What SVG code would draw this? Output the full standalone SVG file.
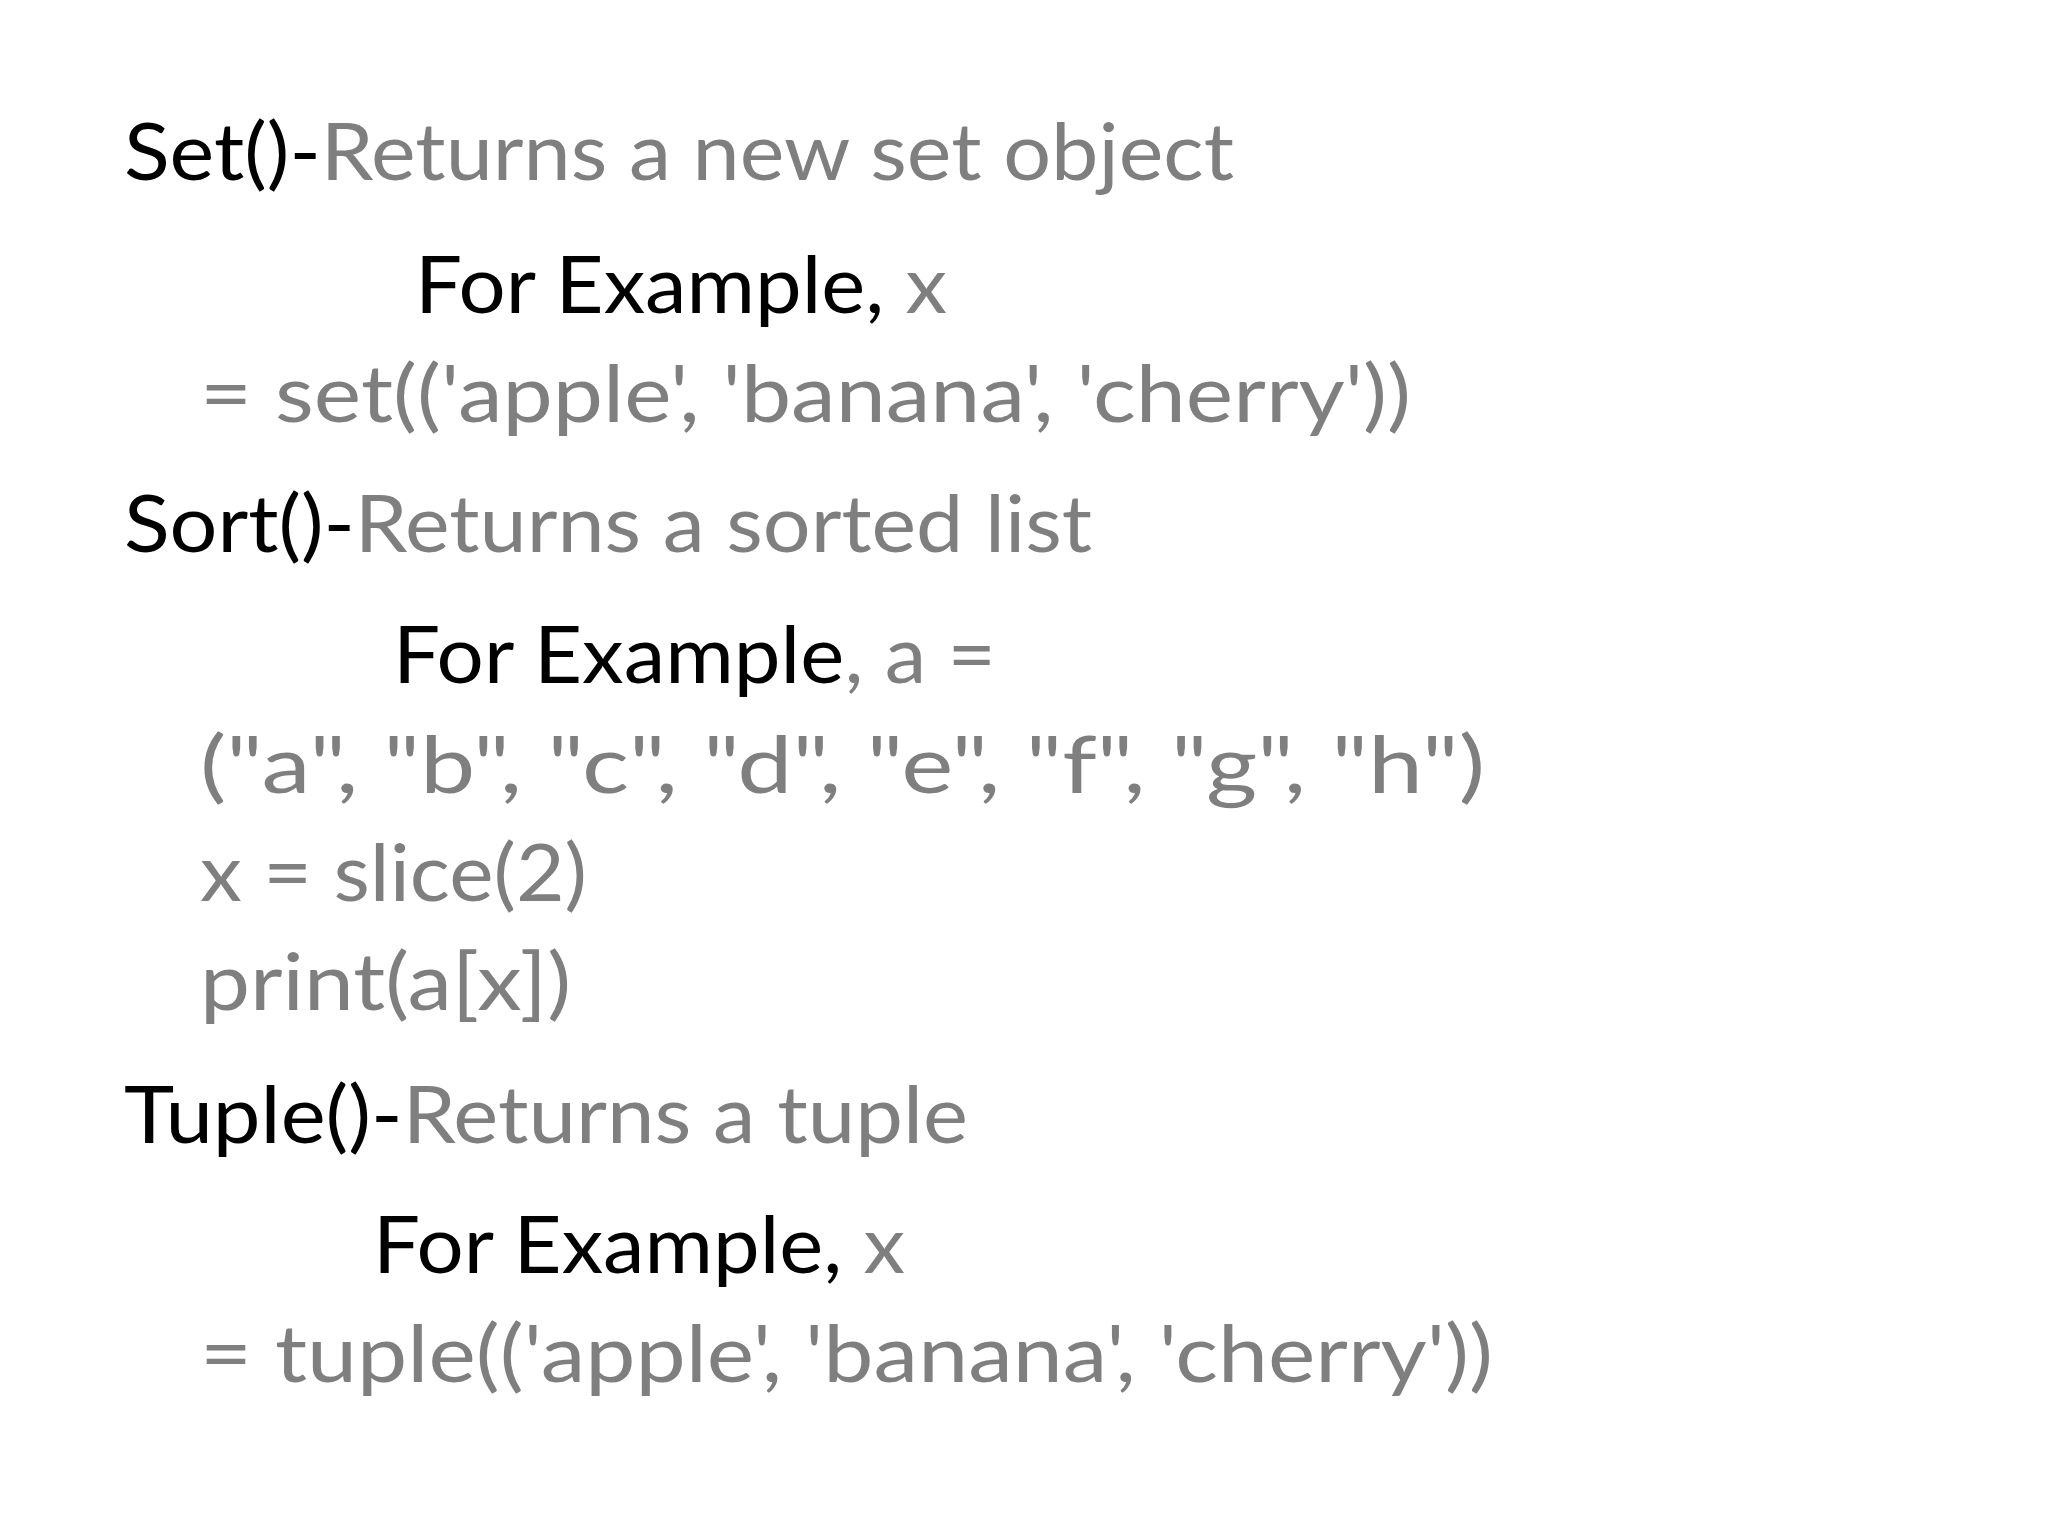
<svg xmlns="http://www.w3.org/2000/svg" width="2048" height="1536" viewBox="0 0 2048 1536">
<style>
text{font-family:Lato,"Open Sans","Liberation Sans",sans-serif;font-size:80px;fill:#7f7f7f}
.k{fill:#000}
</style>
<rect width="2048" height="1536" fill="#fff"/>
<g id="set">
<text x="124" y="180" textLength="1110" lengthAdjust="spacingAndGlyphs"><tspan class="k">Set()-</tspan>Returns a new set object</text>
<text x="415" y="313" textLength="532" lengthAdjust="spacingAndGlyphs"><tspan class="k">For Example, </tspan>x</text>
<text x="200" y="422" textLength="1211" lengthAdjust="spacingAndGlyphs">= set(('apple', 'banana', 'cherry'))</text>
</g>
<g id="sort">
<text x="124" y="552" textLength="968" lengthAdjust="spacingAndGlyphs"><tspan class="k">Sort()-</tspan>Returns a sorted list</text>
<text x="393" y="683" textLength="603" lengthAdjust="spacingAndGlyphs"><tspan class="k">For Example</tspan>, a =</text>
<text x="200" y="793" textLength="1285" lengthAdjust="spacingAndGlyphs">("a", "b", "c", "d", "e", "f", "g", "h")</text>
<text x="200" y="901" textLength="387" lengthAdjust="spacingAndGlyphs">x = slice(2)</text>
<text x="200" y="1010" textLength="371" lengthAdjust="spacingAndGlyphs">print(a[x])</text>
</g>
<g id="tuple">
<text x="124" y="1143" textLength="844" lengthAdjust="spacingAndGlyphs"><tspan class="k">Tuple()-</tspan>Returns a tuple</text>
<text x="373" y="1273" textLength="532" lengthAdjust="spacingAndGlyphs"><tspan class="k">For Example, </tspan>x</text>
<text x="200" y="1382" textLength="1293" lengthAdjust="spacingAndGlyphs">= tuple(('apple', 'banana', 'cherry'))</text>
</g>
</svg>
